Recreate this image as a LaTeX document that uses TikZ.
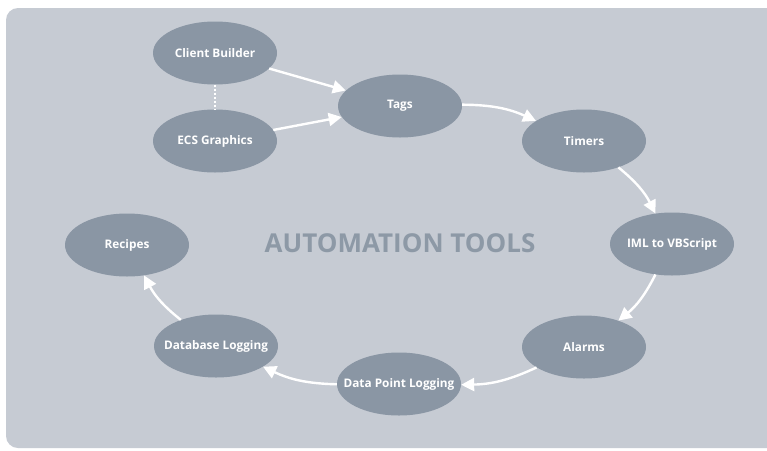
\documentclass[tikz,border=0pt]{standalone}
\usepackage{fontspec}
\setmainfont{Open Sans}
\usetikzlibrary{arrows.meta,shapes.geometric}
\definecolor{panel}{HTML}{C6CBD3}
\definecolor{ell}{HTML}{8A96A4}
\definecolor{ttl}{HTML}{8D99A6}
\newcommand{\zw}[1]{\makebox[0pt]{#1}}
\tikzset{
  tool/.style={ellipse, fill=ell, minimum width=124pt, minimum height=63pt, inner sep=0pt,
    text=white, font=\bfseries\fontsize{11.8}{13}\selectfont},
  flow/.style={draw=white, line width=2.4pt, -{Triangle[length=13pt,width=13pt]}},
  link/.style={draw=white, line width=2pt, dotted},
}
\begin{document}
\begin{tikzpicture}[x=1pt,y=-1pt]
\useasboundingbox (0,0) rectangle (767,450);
\fill[white] (0,0) rectangle (767,450);
\fill[panel, rounded corners=12pt] (6,8) rectangle (790,448);
\node[text=ttl, font=\bfseries\fontsize{26}{30}\selectfont] (title) at (400,243) {AUTOMATION TOOLS};
\node[tool] (cb) at (215,53) {\zw{Client Builder}};
\node[tool] (ecs) at (215,141) {\zw{ECS Graphics}};
\node[tool] (tags) at (400,106) {\zw{Tags}};
\node[tool] (tim) at (584,141) {\zw{Timers}};
\node[tool] (iml) at (672,244) {\zw{IML to VBScript}};
\node[tool] (alm) at (584,347) {\zw{Alarms}};
\node[tool] (dpl) at (399,384) {\zw{Data Point Logging}};
\node[tool] (dbl) at (216,346) {\zw{Database Logging}};
\node[tool] (rec) at (127,245) {\zw{Recipes}};
\draw[link] (cb) -- (ecs);
\draw[flow] (cb) -- (tags);
\draw[flow] (ecs) -- (tags);
\draw[flow] (tags) to[bend left=12] (tim);
\draw[flow] (tim) to[bend left=12] (iml);
\draw[flow] (iml) to[bend left=12] (alm);
\draw[flow] (alm) to[bend left=12] (dpl);
\draw[flow] (dpl) to[bend left=12] (dbl);
\draw[flow] (dbl) to[bend left=12] (rec);
\end{tikzpicture}
\end{document}
